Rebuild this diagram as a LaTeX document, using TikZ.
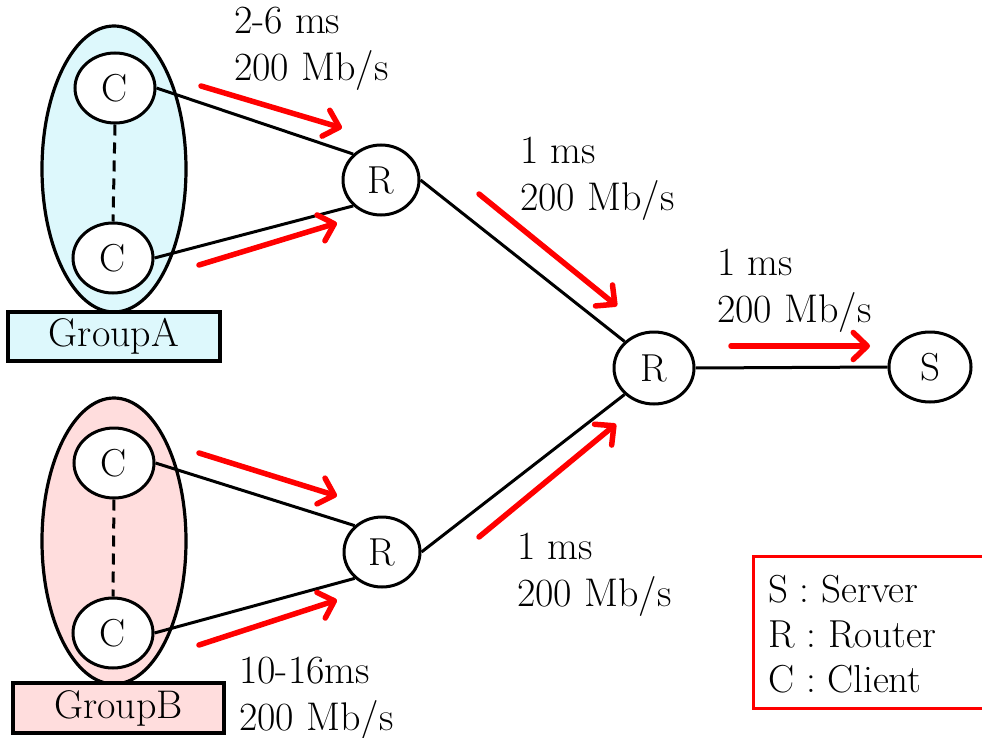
\documentclass[tikz,border=0pt]{standalone}
\usetikzlibrary{shapes.geometric,arrows.meta}
\definecolor{groupacyan}{RGB}{221,248,252}
\definecolor{groupbpink}{RGB}{255,221,221}
\begin{document}
\begin{tikzpicture}[x=1pt,y=-1pt,
  txt/.style={font=\fontsize{40}{47}\selectfont},
  host/.style={ellipse,draw,line width=3pt,fill=white,inner sep=0pt,
    minimum width=80pt,minimum height=70pt,font=\fontsize{39}{46}\selectfont},
  group/.style={ellipse,draw,line width=3.2pt,inner sep=0pt,
    minimum width=144pt,minimum height=286pt},
  tag/.style={draw,line width=3.2pt,inner sep=0pt,font=\fontsize{40}{46}\selectfont},
  link/.style={line width=3pt},
  flow/.style={draw=red,line width=5.5pt,line cap=round,
    -{Straight Barb[length=14pt,width=27pt,line cap=round,line join=round]}},
  label/.style={txt,align=left,anchor=north west,inner sep=0pt}]
\clip (0,0) rectangle (982,738);

% client groups
\node[group,fill=groupacyan] (grpA) at (114,169) {};
\node[group,fill=groupbpink] (grpB) at (114,541) {};
\node[tag,fill=groupacyan,minimum width=212pt,minimum height=49pt] (tagA) at (114,336.5) {GroupA};
\node[tag,fill=groupbpink,minimum width=211pt,minimum height=50pt] (tagB) at (118.5,708) {GroupB};

% hosts
\node[host] (cA1) at (115,88) {C};
\node[host] (cA2) at (113,258) {C};
\node[host] (cB1) at (114,463) {C};
\node[host] (cB2) at (113,633) {C};
\node[host,minimum width=76pt] (rA) at (381,180) {R};
\node[host,minimum width=76pt] (rB) at (382,552) {R};
\node[host,minimum height=72pt] (rM) at (654,368) {R};
\node[host,minimum width=82pt] (s) at (930,367) {S};

% links
\draw[link,dashed,dash pattern=on 11pt off 7pt] (cA1.south) -- (cA2.north);
\draw[link,dashed,dash pattern=on 11pt off 7pt] (cB1.south) -- (cB2.north);
\draw[link] (cA1.east) -- (rA.137);
\draw[link] (cA2.east) -- (rA.223);
\draw[link] (cB1.east) -- (rB.136);
\draw[link] (cB2.east) -- (rB.224);
\draw[link] (rA.east) -- (rM.138);
\draw[link] (rB.east) -- (rM.222);
\draw[link] (rM.east) -- (s.west);

% traffic direction
\coordinate (fA1s) at (201,86);   \coordinate (fA1e) at (342,128);
\coordinate (fA2s) at (199,265);  \coordinate (fA2e) at (337,223);
\coordinate (fB1s) at (199,453);  \coordinate (fB1e) at (337,496);
\coordinate (fB2s) at (199,645);  \coordinate (fB2e) at (337,600);
\coordinate (fMAs) at (479,194);  \coordinate (fMAe) at (617,306);
\coordinate (fMBs) at (479,537);  \coordinate (fMBe) at (616,424);
\coordinate (fSs) at (731,346);   \coordinate (fSe) at (870,346);
\draw[flow] (fA1s) -- (fA1e);
\draw[flow] (fA2s) -- (fA2e);
\draw[flow] (fB1s) -- (fB1e);
\draw[flow] (fB2s) -- (fB2e);
\draw[flow] (fMAs) -- (fMAe);
\draw[flow] (fMBs) -- (fMBe);
\draw[flow] (fSs) -- (fSe);

% link parameters
\node[label] (lA) at (234,7) {2-6 ms\\200 Mb/s};
\node[label] (lB) at (239,657) {10-16ms\\200 Mb/s};
\node[label] (lMA) at (520,137) {1 ms\\200 Mb/s};
\node[label] (lMB) at (517,533) {1 ms\\200 Mb/s};
\node[label] (lS) at (717,249) {1 ms\\200 Mb/s};

% legend
\draw[draw=red,line width=3pt] (753,556) rectangle (1000,708);
\node[font=\fontsize{39}{45}\selectfont,align=left,anchor=north west,inner sep=0pt]
  (legend) at (768,575) {S : Server\\R : Router\\C : Client};
\end{tikzpicture}
\end{document}
